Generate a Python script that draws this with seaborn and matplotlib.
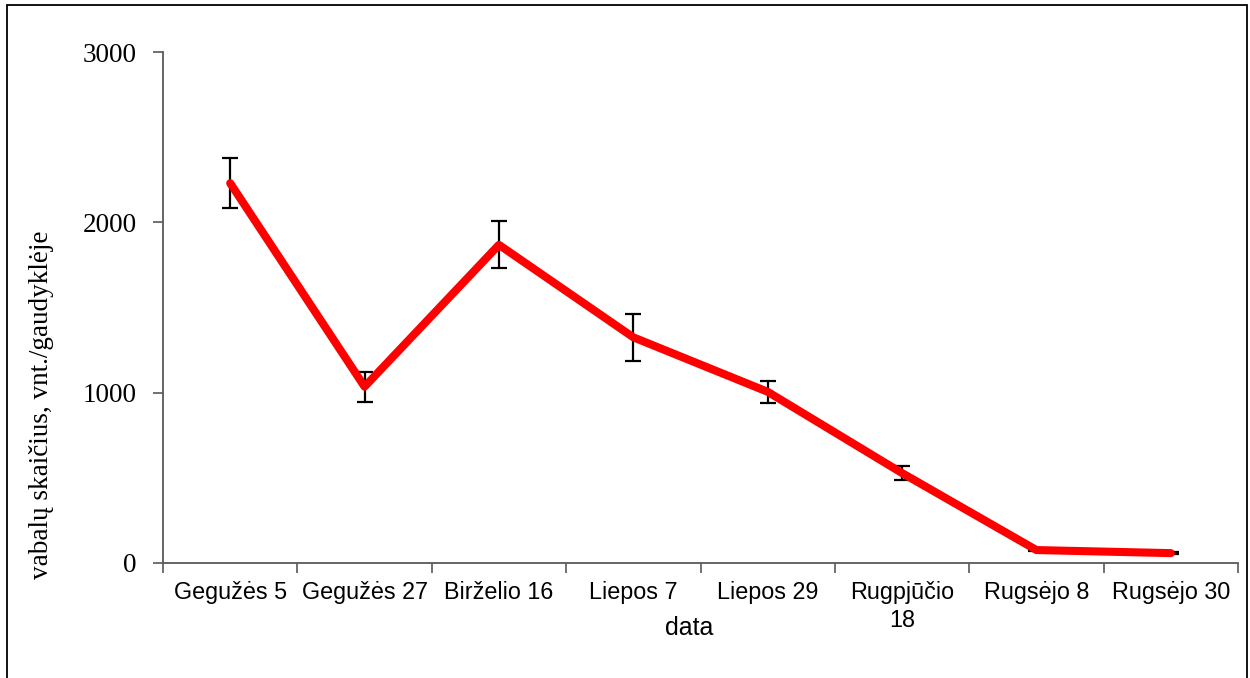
import numpy as np
import pandas as pd
import matplotlib
matplotlib.use("Agg")
import matplotlib.pyplot as plt
from matplotlib.patches import Rectangle
import seaborn as sns

# Beetle catches per trap on each sampling date
dates = ["Gegužės 5", "Gegužės 27", "Birželio 16", "Liepos 7",
         "Liepos 29", "Rugpjūčio\n18", "Rugsėjo 8", "Rugsėjo 30"]
counts = [2230, 1035, 1868, 1325, 1005, 528, 76, 58]
errors = [148, 88, 138, 138, 65, 40, 6, 6]
y_ticks = [0, 1000, 2000, 3000]

df = pd.DataFrame({"pos": np.arange(len(dates)), "count": counts, "err": errors})

sns.set_theme(style="white")
plt.rcParams["font.family"] = ["Liberation Sans", "DejaVu Sans"]
plt.rcParams["text.color"] = "black"
plt.rcParams["xtick.color"] = "#595959"
plt.rcParams["ytick.color"] = "#595959"
plt.rcParams["xtick.labelcolor"] = "black"
plt.rcParams["ytick.labelcolor"] = "black"

W, H = 1250, 678
fig = plt.figure(figsize=(W / 100, H / 100), dpi=100)
ax = fig.add_axes([163 / W, 1 - 563 / H, (1238 - 163) / W, (563 - 52) / H])

# error bars underneath the line
ax.errorbar(df["pos"], df["count"], yerr=df["err"], fmt="none",
            ecolor="black", elinewidth=1.6, capsize=6, capthick=1.6, zorder=2)

sns.lineplot(data=df, x="pos", y="count", color="#FF0000", linewidth=5.8,
             ax=ax, zorder=3, solid_capstyle="round", solid_joinstyle="round")

ax.set_xlim(-0.5, len(dates) - 0.5)
ax.set_ylim(0, 3000)

# category boundaries carry the tick marks, labels sit between them
ax.set_xticks(np.arange(-0.5, len(dates), 1.0))
ax.set_xticklabels([])
ax.set_xticks(df["pos"], minor=True)
ax.set_xticklabels(dates, minor=True, fontsize=16.8, family="Liberation Sans",
                   linespacing=1.25, color="black")
ax.tick_params(axis="x", which="major", direction="out", length=7,
               width=1.2, color="#595959", bottom=True)
ax.tick_params(axis="x", which="minor", length=0, pad=13, bottom=True)

ax.set_yticks(y_ticks)
ax.set_yticklabels([str(v) for v in y_ticks], fontsize=19.5,
                   family="Liberation Serif", color="black")
ax.tick_params(axis="y", direction="out", length=7, width=1.2,
               color="#595959", pad=12, left=True)

for side in ["top", "right"]:
    ax.spines[side].set_visible(False)
for side in ["left", "bottom"]:
    ax.spines[side].set_color("#595959")
    ax.spines[side].set_linewidth(1.3)

ax.set_xlabel("")
ax.set_ylabel("")
fig.text(689 / W, 1 - 628 / H, "data", ha="center", va="center",
         fontsize=18, family="Liberation Sans", color="black")
fig.text(42 / W, 1 - 405 / H, "vabalų skaičius, vnt./gaudyklėje",
         rotation=90, ha="center", va="center", fontsize=19.5,
         family="Liberation Serif", color="black")

# chart border
fig.patches.append(Rectangle((7 / W, -0.05), (1247 - 7) / W, 1.05 - 5 / H,
                             transform=fig.transFigure, fill=False,
                             edgecolor="black", linewidth=1.3))

fig.savefig("out.png", dpi=100)
